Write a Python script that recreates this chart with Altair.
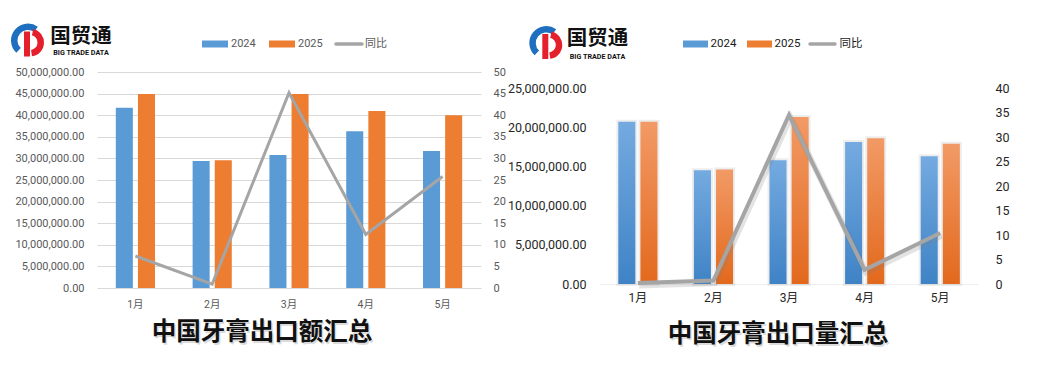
import altair as alt
import pandas as pd

# ---------------- data ----------------
months = ["1月", "2月", "3月", "4月", "5月"]
series = ["2024", "2025"]

value_2024 = [41.7e6, 29.4e6, 30.8e6, 36.3e6, 31.7e6]
value_2025 = [44.9e6, 29.6e6, 44.9e6, 41.0e6, 40.0e6]
value_yoy = [7.4, 0.9, 45.2, 12.4, 25.8]

qty_2024 = [20.7e6, 14.5e6, 15.8e6, 18.1e6, 16.3e6]
qty_2025 = [20.7e6, 14.6e6, 21.3e6, 18.6e6, 17.9e6]
qty_yoy = [0.2, 0.7, 34.5, 2.9, 10.4]

legend_labels = ["2024", "2025", "同比"]
logo_name = "国贸通"
logo_sub = "BIG TRADE DATA"
title_left = "中国牙膏出口额汇总"
title_right = "中国牙膏出口量汇总"

BLUE = "#5b9bd5"
ORANGE = "#ed7d31"
GRAY = "#a5a5a5"
NUM_FONT = 'Roboto, "Noto Sans CJK SC"'
CJK_FONT = '"Noto Sans CJK SC"'


def bars_df(a, b):
    rows = []
    for m, v1, v2 in zip(months, a, b):
        rows.append({"month": m, "series": series[0], "value": v1})
        rows.append({"month": m, "series": series[1], "value": v2})
    return pd.DataFrame(rows)


def line_df(y):
    return pd.DataFrame({"month": months, "yoy": y})


one = pd.DataFrame({"k": [0]})


def txt(text, x, y, size, color, font, weight="normal", align="left", dx=0, dy=0, opacity=1.0):
    return alt.Chart(pd.DataFrame({"t": [text]})).mark_text(
        font=font, fontSize=size, fontWeight=weight, color=color, align=align,
        baseline="middle", dx=dx, dy=dy, opacity=opacity
    ).encode(x=alt.value(x), y=alt.value(y), text="t:N")


def logo(cx, cy, tx, ty, sy):
    blue_arc = alt.Chart(one).mark_arc(
        theta=3.9, theta2=6.9, radius=17, radius2=10.5, color="#1f6fc0"
    ).encode(x=alt.value(cx), y=alt.value(cy))
    red_arc = alt.Chart(one).mark_arc(
        theta=0.25, theta2=3.0, radius=14, radius2=7.5, color="#e3202b"
    ).encode(x=alt.value(cx + 2), y=alt.value(cy + 2))
    red_bar = alt.Chart(one).mark_rect(color="#e3202b").encode(
        x=alt.value(cx - 4), x2=alt.value(cx + 2), y=alt.value(cy - 9), y2=alt.value(cy + 16)
    )
    name = txt(logo_name, tx, ty, 20.5, "#111111", CJK_FONT, weight="bold", align="center")
    sub = txt(logo_sub, tx, sy, 7.2, "#111111", "Roboto", weight="bold", align="center")
    return [blue_arc, red_arc, red_bar, name, sub]


def legend(x0, y0, color, size, rect_w, pos):
    (r1, t1), (r2, t2), (l3, t3) = pos
    return [
        alt.Chart(one).mark_rect(color=BLUE).encode(
            x=alt.value(x0 + r1), x2=alt.value(x0 + r1 + rect_w), y=alt.value(y0 - 3.5), y2=alt.value(y0 + 3.5)),
        alt.Chart(one).mark_rect(color=ORANGE).encode(
            x=alt.value(x0 + r2), x2=alt.value(x0 + r2 + rect_w), y=alt.value(y0 - 3.5), y2=alt.value(y0 + 3.5)),
        alt.Chart(one).mark_rule(color=GRAY, strokeWidth=3.5, strokeCap="round").encode(
            x=alt.value(x0 + l3), x2=alt.value(x0 + l3 + rect_w), y=alt.value(y0)),
        txt(legend_labels[0], x0 + t1, y0, size, color, NUM_FONT),
        txt(legend_labels[1], x0 + t2, y0, size, color, NUM_FONT),
        txt(legend_labels[2], x0 + t3, y0, size, color, CJK_FONT),
    ]


def title_marks(text, x, y):
    return [
        txt(text, x, y, 24.5, "#9a9a9a", CJK_FONT, weight="bold", align="center", dx=1.5, dy=2, opacity=0.35),
        txt(text, x, y, 24.5, "#111111", CJK_FONT, weight="bold", align="center"),
    ]


# ---------------- left panel: export value ----------------
W1, H1 = 384, 216
xl = alt.X("month:N", sort=months, title=None,
           scale=alt.Scale(paddingInner=0.49, paddingOuter=0.245),
           axis=alt.Axis(labelAngle=0, domain=False, ticks=False, labelColor="#595959",
                         labelFont=NUM_FONT, labelFontSize=10.5, labelPadding=11))

left_bars = alt.Chart(bars_df(value_2024, value_2025)).mark_bar().encode(
    x=xl,
    xOffset=alt.XOffset("series:N", scale=alt.Scale(domain=series, paddingInner=0.23)),
    y=alt.Y("value:Q", title=None,
            scale=alt.Scale(domain=[0, 50e6], nice=False),
            axis=alt.Axis(values=[i * 5e6 for i in range(11)], format=",.2f", grid=True,
                          gridColor="#d9d9d9", domain=False, ticks=False, labelColor="#595959",
                          labelFont=NUM_FONT, labelFontSize=11, labelPadding=13)),
    color=alt.Color("series:N", scale=alt.Scale(domain=series, range=[BLUE, ORANGE]), legend=None),
)

left_line = alt.Chart(line_df(value_yoy)).mark_line(color=GRAY, strokeWidth=3).encode(
    x=alt.X("month:N", sort=months),
    y=alt.Y("yoy:Q", title=None, scale=alt.Scale(domain=[0, 50], nice=False),
            axis=alt.Axis(orient="right", values=list(range(0, 51, 5)), grid=False, domain=False,
                          ticks=False, labelColor="#595959", labelFont=NUM_FONT, labelFontSize=11,
                          labelPadding=12)),
)

left_deco = (
    legend(0, -28, "#595959", 11, 26, [(105, 134), (172, 201), (239, 268)])
    + logo(-69, -31.5, -16, -35, -19)
    + title_marks(title_left, 165, 261)
)

left = alt.layer(
    alt.layer(left_bars, left_line).resolve_scale(y="independent"),
    *left_deco
).properties(width=W1, height=H1)

# ---------------- right panel: export quantity ----------------
W2, H2 = 378, 212
q_top = 25e6 * 212 / 196
p_top = 40 * 212 / 196


def grad(top, bottom):
    return alt.LinearGradient(gradient="linear", x1=0, x2=0, y1=0, y2=1,
                              stops=[alt.GradientStop(color=top, offset=0),
                                     alt.GradientStop(color=bottom, offset=1)])


xr = alt.X("month:N", sort=months, title=None,
           scale=alt.Scale(paddingInner=0.484, paddingOuter=0.242),
           axis=alt.Axis(labelAngle=0, domain=True, domainColor="#eeeeee", ticks=False,
                         labelColor="#262626", labelFont=NUM_FONT, labelFontSize=12, labelPadding=8))
yr = alt.Y("value:Q", title=None, scale=alt.Scale(domain=[0, q_top], nice=False),
           axis=alt.Axis(values=[i * 5e6 for i in range(6)], format=",.2f", grid=False,
                         domain=False, ticks=False, labelColor="#262626",
                         labelFont=NUM_FONT, labelFontSize=12.5, labelPadding=14))
xo = alt.XOffset("series:N", scale=alt.Scale(domain=series, paddingInner=0.2))

qdf = bars_df(qty_2024, qty_2025)
right_halo = alt.Chart(qdf).mark_bar(
    fillOpacity=0, stroke="#000000", strokeWidth=4, strokeOpacity=0.07, xOffset=1).encode(
    x=xr, xOffset=xo, y=yr)
right_b1 = alt.Chart(qdf).transform_filter(alt.datum.series == series[0]).mark_bar(
    color=grad("#74aae0", "#3f83c6")).encode(x=xr, xOffset=xo, y=yr)
right_b2 = alt.Chart(qdf).transform_filter(alt.datum.series == series[1]).mark_bar(
    color=grad("#f29a66", "#e2691d")).encode(x=xr, xOffset=xo, y=yr)

yr2 = alt.Y("yoy:Q", title=None, scale=alt.Scale(domain=[0, p_top], nice=False),
            axis=alt.Axis(orient="right", values=list(range(0, 41, 5)), grid=False, domain=False,
                          ticks=False, labelColor="#262626", labelFont=NUM_FONT, labelFontSize=12.5,
                          labelPadding=17))
right_line = alt.Chart(line_df(qty_yoy)).mark_line(color=GRAY, strokeWidth=4).encode(
    x=alt.X("month:N", sort=months), y=yr2)
right_shadow = alt.Chart(line_df(qty_yoy)).mark_line(
    color="#7f7f7f", strokeWidth=6, opacity=0.22, xOffset=1.5, yOffset=2.5).encode(
    x=alt.X("month:N", sort=months), y=yr2)

right_deco = (
    legend(0, -28, "#1a1a1a", 11.5, 25, [(83, 110.5), (147, 174.5), (210, 239.5)])
    + logo(-53.7, -29, -2.5, -33, -15)
    + title_marks(title_right, 178, 263)
)

right = alt.layer(
    alt.layer(
        alt.layer(right_halo, right_b1, right_b2),
        alt.layer(right_shadow, right_line),
    ).resolve_scale(y="independent"),
    *right_deco
).properties(width=W2, height=H2)

chart = alt.hconcat(left, right, spacing=119, bounds="flush").properties(
    padding={"left": 3, "top": 15, "right": 5, "bottom": 5},
    background="white",
).configure_view(stroke=None)

chart.save("out.html", embed_options={"renderer": "svg", "actions": False})
